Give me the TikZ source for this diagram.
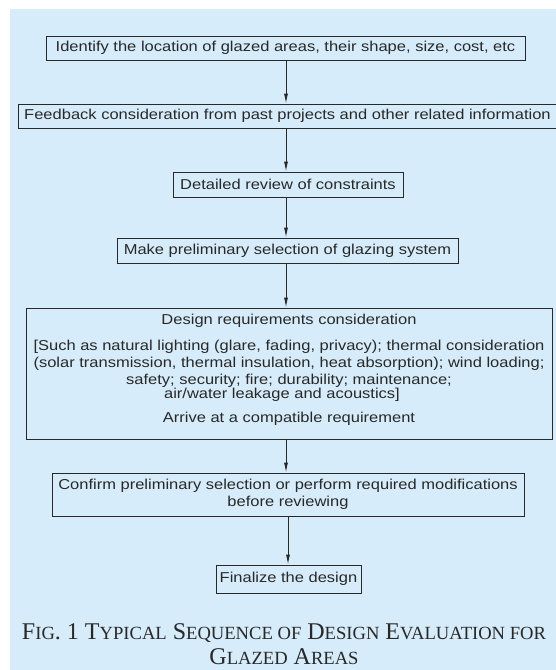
\documentclass[tikz,border=0pt]{standalone}
\usepackage{fontspec}
\setmainfont{Liberation Sans}[FakeStretch=1.15]
\newfontfamily\capfont{Liberation Serif}
\usetikzlibrary{arrows.meta}
\definecolor{bgblue}{RGB}{214,236,250}
\definecolor{ink}{RGB}{40,40,40}
\newcommand\smc[1]{{\fontsize{18.6}{20}\selectfont #1}}
\begin{document}
\begin{tikzpicture}[x=1pt,y=-1pt,
  box/.style={draw=ink, line width=0.9pt, inner sep=0pt, text=ink,
    font=\fontsize{14.35}{16}\selectfont, align=center},
  txt/.style={text=ink, inner sep=0pt, font=\fontsize{14.35}{16}\selectfont},
  flow/.style={draw=ink, line width=0.9pt, -{Latex[length=10pt,width=4pt]}},
  captxt/.style={text=ink, inner sep=0pt, anchor=base, font=\capfont\fontsize{24}{26}\selectfont}]
\useasboundingbox (0,0) rectangle (556,670);
\fill[bgblue] (10,9) rectangle (556,670);
\coordinate (ax) at (286,0);
\coordinate (bx) at (288,0);
\node[box, minimum width=479pt, minimum height=24pt] (b1) at (285.5,48)
  {Identify the location of glazed areas, their shape, size, cost, etc};
\node[box, minimum width=539pt, minimum height=24pt] (b2) at (287.5,116)
  {Feedback consideration from past projects and other related information};
\node[box, minimum width=230pt, minimum height=25pt] (b3) at (288,184.5)
  {Detailed review of constraints};
\node[box, minimum width=341pt, minimum height=25pt] (b4) at (287.5,250.5)
  {Make preliminary selection of glazing system};
\node[box, minimum width=526pt, minimum height=131pt] (b5) at (289,373.5) {};
\node[txt] (t1) at (289,321) {Design requirements consideration};
\node[txt] (t2) at (289,347) {[Such as natural lighting (glare, fading, privacy); thermal consideration};
\node[txt] (t3) at (289,364) {(solar transmission, thermal insulation, heat absorption); wind loading;};
\node[txt] (t4) at (289,381) {safety; security; fire; durability; maintenance;};
\node[txt] (t5) at (282,395) {air/water leakage and acoustics]};
\node[txt] (t6) at (289,419) {Arrive at a compatible requirement};
\node[box, minimum width=472pt, minimum height=43pt] (b6) at (288,494.5) {};
\node[txt] (t7) at (288,486) {Confirm preliminary selection or perform required modifications};
\node[txt] (t8) at (288,503) {before reviewing};
\node[box, minimum width=145pt, minimum height=28pt] (b7) at (288.5,579)
  {Finalize the design};
\draw[flow] (b1.south -| ax) -- (b2.north -| ax);
\draw[flow] (b2.south -| ax) -- (b3.north -| ax);
\draw[flow] (b3.south -| ax) -- (b4.north -| ax);
\draw[flow] (b4.south -| ax) -- (b5.north -| ax);
\draw[flow] (b5.south -| ax) -- (b6.north -| ax);
\draw[flow] (b6.south -| bx) -- (b7.north -| bx);
\node[captxt] (c1) at (284,639) {F\smc{IG}. 1 T\smc{YPICAL} S\smc{EQUENCE OF} D\smc{ESIGN} E\smc{VALUATION FOR}};
\node[captxt] (c2) at (284,664.5) {G\smc{LAZED} A\smc{REAS}};
\end{tikzpicture}
\end{document}
